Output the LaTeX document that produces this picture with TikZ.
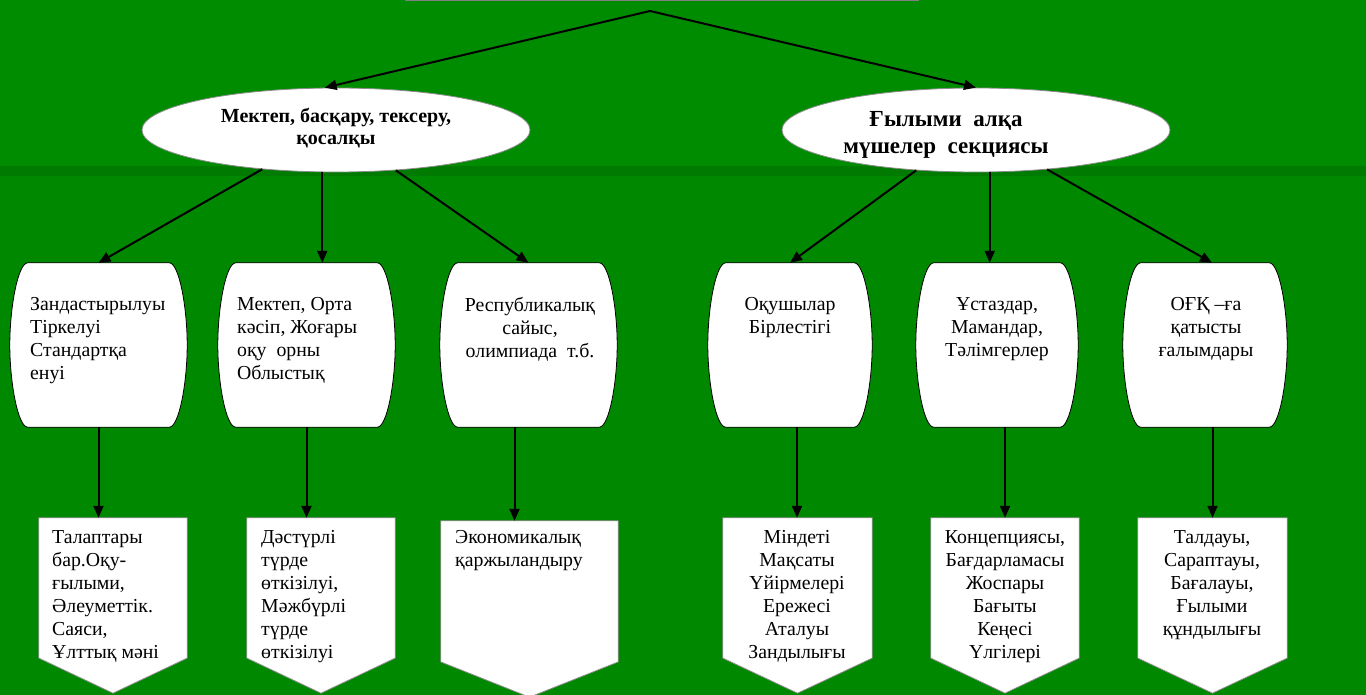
\documentclass[tikz,border=0pt]{standalone}
\usepackage{fontspec}
\setmainfont{Liberation Serif}
\usetikzlibrary{shapes.geometric,arrows.meta,calc}
\definecolor{bgtop}{RGB}{0,140,0}
\definecolor{bgband}{RGB}{0,122,0}
\definecolor{bgbot}{RGB}{0,136,0}
\newcommand\barrelshape[1]{%
  \draw[boxline] ($(#1.north west)+(18,0)$) -- ($(#1.north east)+(-18,0)$)
    .. controls ($(#1.north east)+(-8,0)$) and ($(#1.north east)+(0,45)$) .. (#1.east)
    .. controls ($(#1.south east)+(0,-45)$) and ($(#1.south east)+(-8,0)$) .. ($(#1.south east)+(-18,0)$)
    -- ($(#1.south west)+(18,0)$)
    .. controls ($(#1.south west)+(8,0)$) and ($(#1.south west)+(0,-45)$) .. (#1.west)
    .. controls ($(#1.north west)+(0,45)$) and ($(#1.north west)+(8,0)$) .. cycle;}
\newcommand\pentshape[1]{%
  \draw[pentline] (#1.north west) -- (#1.north east) -- ($(#1.north east)!0.8!(#1.south east)$)
    -- (#1.south) -- ($(#1.north west)!0.8!(#1.south west)$) -- cycle;}
\begin{document}
\begin{tikzpicture}[x=1pt,y=-1pt,
  area/.style={draw=none,inner sep=0pt,minimum height=164pt},
  parea/.style={draw=none,inner sep=0pt,minimum height=175pt},
  boxline/.style={fill=white,draw=black,line width=0.8pt},
  pentline/.style={fill=white,draw=black!45,line width=0.8pt},
  ell/.style={ellipse,fill=white,draw=black!45,line width=0.8pt,minimum width=388pt,minimum height=84pt,inner sep=0pt},
  txt/.style={inner sep=0pt,font=\fontsize{19.8}{23}\selectfont},
  arr/.style={line width=2pt,-{Triangle[length=12pt,width=10pt]}}]
\useasboundingbox (0,0) rectangle (1366,695);
\fill[bgbot] (0,0) rectangle (1366,695);
\fill[bgtop] (0,0) rectangle (1366,166);
\fill[bgband] (0,166) rectangle (1366,176);
% top box
\node[draw=black!50,fill=white,line width=1.5pt,minimum width=512pt,minimum height=30pt,inner sep=0pt,anchor=south] (T) at (662,1.5) {};
\coordinate (apex) at (650,11);
% ellipses
\node[ell] (L) at (336,130) {};
\node[ell] (R) at (976,130) {};
\node[txt,font=\bfseries\fontsize{20}{22}\selectfont,align=center,anchor=north] (Lt) at (336,108) {Мектеп, басқару, тексеру,\\қосалқы};
\node[txt,font=\bfseries\fontsize{23}{27}\selectfont,align=center,anchor=north] (Rt) at (946,111) {Ғылыми~ алқа\\мүшелер~ секциясы};
% barrels
\node[area,minimum width=177pt] (B1) at (98.5,345) {};
\node[area,minimum width=177pt] (B2) at (306.5,345) {};
\node[area,minimum width=177pt] (B3) at (528.5,345) {};
\node[area,minimum width=164pt] (B4) at (790,345) {};
\node[area,minimum width=162pt] (B5) at (997,345) {};
\node[area,minimum width=164pt] (B6) at (1205,345) {};
\barrelshape{B1}\barrelshape{B2}\barrelshape{B3}\barrelshape{B4}\barrelshape{B5}\barrelshape{B6}
% pentagons
\node[parea,minimum width=148pt] (P1) at (113,605.5) {};
\node[parea,minimum width=148pt] (P2) at (321,605.5) {};
\node[parea,minimum width=177pt,minimum height=176pt] (P3) at (529.5,609) {};
\node[parea,minimum width=149pt] (P4) at (797.5,605.5) {};
\node[parea,minimum width=148pt] (P5) at (1005,605.5) {};
\node[parea,minimum width=149pt] (P6) at (1212.5,605.5) {};
\pentshape{P1}\pentshape{P2}\pentshape{P3}\pentshape{P4}\pentshape{P5}\pentshape{P6}
% connectors
\draw[arr] (apex) -- (L.105);
\draw[arr] (apex) -- (R.north);
\draw[arr] (L.208) -- (B1.north);
\draw[arr] (L.252) -- (L.252 |- B2.north);
\draw[arr] (L.326) -- (B3.north);
\draw[arr] (R.214) -- (B4.north);
\draw[arr] (R.288) -- (R.288 |- B5.north);
\draw[arr] (R.331) -- ([xshift=7pt]B6.north);
\draw[arr] (B1.south) -- (B1.south |- P1.north);
\draw[arr] (B2.south) -- (B2.south |- P2.north);
\draw[arr] ([xshift=-14pt]B3.south) -- ([xshift=-14pt]B3.south |- P3.north);
\draw[arr] ([xshift=7pt]B4.south) -- ([xshift=7pt]B4.south |- P4.north);
\draw[arr] ([xshift=8pt]B5.south) -- ([xshift=8pt]B5.south |- P5.north);
\draw[arr] ([xshift=7.5pt]B6.south) -- ([xshift=7.5pt]B6.south |- P6.north);
% barrel texts
\node[txt,align=left,anchor=north west] (B1t) at (30,297) {Зандастырылуы\\Тіркелуі\\Стандартқа\\енуі};
\node[txt,align=left,anchor=north west] (B2t) at (237,297) {Мектеп, Орта\\кәсіп, Жоғары\\оқу~ орны\\Облыстық};
\node[txt,align=center,anchor=north] (B3t) at (530,297) {Республикалық\\сайыс,\\олимпиада~ т.б.};
\node[txt,align=center,anchor=north] (B4t) at (790,297) {Оқушылар\\Бірлестігі};
\node[txt,align=center,anchor=north] (B5t) at (997,297) {Ұстаздар,\\Мамандар,\\Тәлімгерлер};
\node[txt,align=center,anchor=north] (B6t) at (1206,297) {ОҒҚ –ға\\қатысты\\ғалымдары};
% pentagon texts
\node[txt,align=left,anchor=north west] (P1t) at (52,530) {Талаптары\\бар.Оқу-\\ғылыми,\\Әлеуметтік.\\Саяси,\\Ұлттық мәні};
\node[txt,align=left,anchor=north west] (P2t) at (261,530) {Дәстүрлі\\түрде\\өткізілуі,\\Мәжбүрлі\\түрде\\өткізілуі};
\node[txt,align=left,anchor=north west] (P3t) at (455,530) {Экономикалық\\қаржыландыру};
\node[txt,align=center,anchor=north] (P4t) at (797,530) {Міндеті\\Мақсаты\\Үйірмелері\\Ережесі\\Аталуы\\Зандылығы};
\node[txt,align=center,anchor=north] (P5t) at (1005,530) {Концепциясы,\\Бағдарламасы\\Жоспары\\Бағыты\\Кеңесі\\Үлгілері};
\node[txt,align=center,anchor=north] (P6t) at (1212,530) {Талдауы,\\Сараптауы,\\Бағалауы,\\Ғылыми\\құндылығы};
\end{tikzpicture}
\end{document}
